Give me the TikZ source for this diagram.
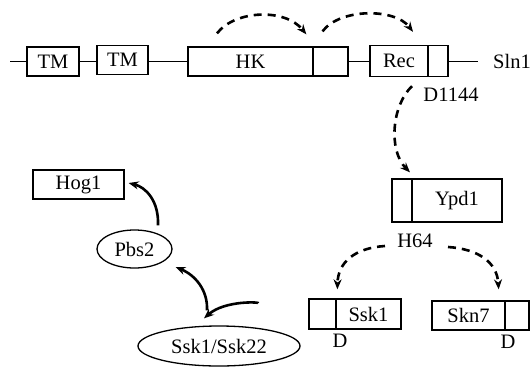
\documentclass[tikz,border=0pt]{standalone}
\usepackage{fontspec}
\setmainfont{Liberation Serif}
\usetikzlibrary{arrows.meta,shapes.geometric}
\begin{document}
\begin{tikzpicture}[x=1pt,y=-1pt,
  every node/.style={font=\fontsize{20.5}{24}\selectfont, inner sep=0pt},
  box/.style={draw, line width=1.3pt, fill=white, minimum height=29pt},
  oval/.style={draw, ellipse, line width=1.3pt, fill=white},
  link/.style={line width=1.3pt},
  phos/.style={line width=2.6pt, dash pattern=on 8pt off 6pt,
    -{Stealth[length=10pt,width=8pt]}},
  flow/.style={line width=2.6pt, -{Stealth[length=10pt,width=8pt]}},
  lbl/.style={font=\fontsize{20.5}{24}\selectfont}]
\useasboundingbox (0,0) rectangle (532,367);

% Sln1 sensor
\coordinate (lstart) at (10,61.5);
\node[box, minimum width=52pt] (tm1) at (53,61.5) {TM};
\node[box, minimum width=51pt] (tm2) at (122.5,60) {TM};
\node[box, minimum width=125pt] (hk) at (250.5,61.5) {HK};
\node[box, minimum width=35pt] (hkc) at (330.5,61.5) {};
\node[box, minimum width=58pt, minimum height=31pt] (rec) at (399,61) {Rec};
\node[box, minimum width=20pt, minimum height=31pt] (recc) at (438,61) {};
\coordinate (lend) at (478,61.5);
\node (sln) at (512,61.5) {Sln1};
\node[lbl] (d1144) at (451,95) {D1144};

\draw[link] (lstart) -- (tm1.west);
\draw[link] (tm1.east) -- (tm2.west |- tm1.east);
\draw[link] (tm2.east |- hk.west) -- (hk.west);
\draw[link] (hkc.east) -- (rec.west |- hkc.east);
\draw[link] (recc.east |- lend) -- (lend);

% Ypd1
\node[box, minimum width=20pt, minimum height=43pt] (ypdc) at (402,200.5) {};
\node[box, minimum width=90pt, minimum height=43pt] (ypd) at (457,200.5) {Ypd1};
\node[lbl] (h64) at (415,241) {H64};

% response regulators
\node[box, minimum width=27pt, minimum height=30pt] (sskc) at (322.5,314) {};
\node[box, minimum width=65pt, minimum height=30pt] (ssk) at (368.5,314) {Ssk1};
\node[lbl] (dssk) at (340,341) {D};
\node[box, minimum width=73pt] (skn) at (468.5,315.5) {Skn7};
\node[box, minimum width=24pt] (sknc) at (517,315.5) {};
\node[lbl] (dskn) at (508,342) {D};

% MAPK cascade
\node[box, minimum width=91pt] (hog) at (78.5,184.5) {Hog1};
\node[oval, minimum width=75pt, minimum height=38pt] (pbs) at (134.5,249) {Pbs2};
\node[oval, minimum width=162pt, minimum height=40pt] (sskk) at (219,346) {Ssk1/Ssk22};

% phosphorelay
\draw[phos] ([shift={(-33.5,-13)}]hk.north) .. controls (235,10) and (285,8) .. ([shift={(-6,-12)}]hkc.north west);
\draw[phos] ([shift={(-8,-15)}]hkc.north) .. controls (340,8) and (395,8) .. ([shift={(14,-13)}]rec.north);
\draw[phos] ([shift={(13,9)}]rec.south) .. controls (392,105) and (388,150) .. ([shift={(8,-6)}]ypdc.north);
\draw[phos] ([shift={(-30,5)}]h64.center) .. controls (355,248) and (338,262) .. ([shift={(2,-9)}]ssk.north west);
\draw[phos] ([shift={(33,6)}]h64.center) .. controls (478,249) and (497,262) .. ([shift={(-7,-11)}]skn.north east);

% kinase cascade
\draw[flow] ([shift={(39,-22)}]sskk.north) .. controls (262,302) and (225,300) .. ([shift={(-15,-7)}]sskk.north);
\draw[flow] ([shift={(-12,-15)}]sskk.north) .. controls (208,290) and (195,275) .. ([shift={(41,18)}]pbs.center);
\draw[flow] ([shift={(23.5,-4)}]pbs.north) .. controls (159,200) and (145,187) .. ([shift={(4,-1.5)}]hog.east);
\end{tikzpicture}
\end{document}
